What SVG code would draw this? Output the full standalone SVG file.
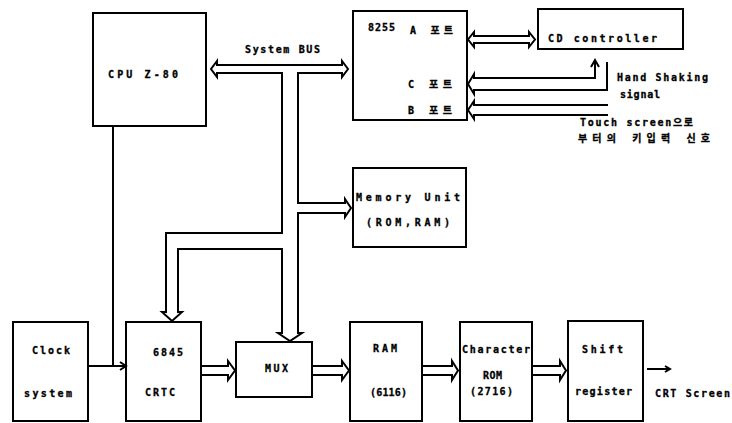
<svg xmlns="http://www.w3.org/2000/svg" width="732" height="423" viewBox="0 0 732 423">
<style>
.box{fill:none;stroke:#000;stroke-width:2}
.ln{fill:none;stroke:#000;stroke-width:2;stroke-linejoin:miter}
.t{font-family:"DejaVu Sans Mono","Liberation Mono","Noto Sans CJK KR",monospace;font-weight:bold;font-size:10px;fill:#000;stroke:#000;stroke-width:0.3}
</style>
<rect width="732" height="423" fill="#fff"/>
<g id="cpu"><rect class="box" x="93" y="13" width="113" height="113"/><text class="t" x="108" y="78" textLength="70" lengthAdjust="spacing">CPU  Z-80</text></g>
<g id="ppi8255"><rect class="box" x="353" y="11" width="114" height="109"/>
<text class="t" x="368" y="31" textLength="27" lengthAdjust="spacing">8255</text>
<text class="t" x="410" y="34" textLength="43" lengthAdjust="spacing">A 포트</text>
<text class="t" x="408" y="88" textLength="44" lengthAdjust="spacing">C 포트</text>
<text class="t" x="408" y="114" textLength="44" lengthAdjust="spacing">B 포트</text></g>
<g id="cdctrl"><rect class="box" x="538" y="9" width="145" height="40"/><text class="t" x="548" y="42" textLength="109" lengthAdjust="spacing">CD  controller</text></g>
<g id="memory"><rect class="box" x="353" y="168" width="113" height="79"/>
<text class="t" x="356" y="201" textLength="104" lengthAdjust="spacing">Memory Unit</text>
<text class="t" x="366" y="226" textLength="84" lengthAdjust="spacing">(ROM,RAM)</text></g>
<g id="clock"><rect class="box" x="13" y="322" width="75" height="99"/>
<text class="t" x="32" y="354" textLength="38" lengthAdjust="spacing">Clock</text>
<text class="t" x="24" y="397" textLength="48" lengthAdjust="spacing">system</text></g>
<g id="crtc"><rect class="box" x="126" y="322" width="75" height="99"/>
<text class="t" x="153" y="356" textLength="30" lengthAdjust="spacing">6845</text>
<text class="t" x="145" y="396" textLength="30" lengthAdjust="spacing">CRTC</text></g>
<g id="mux"><rect class="box" x="236" y="342" width="76" height="55"/><text class="t" x="265" y="372" textLength="23" lengthAdjust="spacing">MUX</text></g>
<g id="ram"><rect class="box" x="350" y="322" width="72" height="99"/>
<text class="t" x="373" y="352" textLength="24" lengthAdjust="spacing">RAM</text>
<text class="t" x="370" y="396" textLength="37" lengthAdjust="spacing">(6116)</text></g>
<g id="charrom"><rect class="box" x="460" y="322" width="72" height="99"/>
<text class="t" x="462" y="353" textLength="68" lengthAdjust="spacing">Character</text>
<text class="t" x="483" y="379" textLength="19" lengthAdjust="spacing">ROM</text>
<text class="t" x="470" y="395" textLength="43" lengthAdjust="spacing">(2716)</text></g>
<g id="shift"><rect class="box" x="568" y="321" width="75" height="100"/>
<text class="t" x="582" y="353" textLength="41" lengthAdjust="spacing">Shift</text>
<text class="t" x="575" y="395" textLength="57" lengthAdjust="spacing">register</text></g>
<g id="labels">
<text class="t" x="245" y="53" textLength="75" lengthAdjust="spacing">System BUS</text>
<text class="t" x="617" y="81" textLength="91" lengthAdjust="spacing">Hand Shaking</text>
<text class="t" x="620" y="98" textLength="40" lengthAdjust="spacing">signal</text>
<text class="t" x="580" y="126" textLength="113" lengthAdjust="spacing">Touch screen으로</text>
<text class="t" x="578" y="142" textLength="132" lengthAdjust="spacing">부터의 키입력 신호</text>
<text class="t" x="655" y="397" textLength="75" lengthAdjust="spacing">CRT Screen</text>
</g>
<g id="connectors">
<path class="ln" d="M217,65 H342 V61 L348,69 L342,77 V73 H298 V203 H345 V199 L351,208 L345,217 V213 H298 V333 H302 L290,341 L278,333 H282 V249 H178 V312 H182 L172,321 L162,312 H166 V233 H282 V73 H217 V77 L211,69 L217,61 Z"/>
<path class="ln" d="M113,126 V366"/>
<path class="ln" d="M88,366 H125 M120,362 L126,366 L120,370"/>
<path class="ln" d="M201,366 H228 V361 L235,370.5 L228,380 V375 H201"/>
<path class="ln" d="M312,366 H342 V361 L349,370.5 L342,380 V375 H312"/>
<path class="ln" d="M422,366 H452 V361 L458,370.5 L452,380 V375 H422"/>
<path class="ln" d="M532,366 H560 V361 L566,370.5 L560,380 V375 H532"/>
<path class="ln" d="M647,369 H670 M665,366 L670,369 L665,372"/>
<path class="ln" d="M474,36 H529 V32 L535,39.5 L529,47 V43 H474 V47 L468,39.5 L474,32 Z"/>
<path class="ln" d="M595,62 V78 H474 V74 L468,84 L474,94 V90 H607 V62"/>
<path class="ln" d="M591,67 L595,60 L599,67"/>
<path class="ln" d="M608,105 H474 V101 L468,110 L474,119 V115 H608"/>
</g>
</svg>
